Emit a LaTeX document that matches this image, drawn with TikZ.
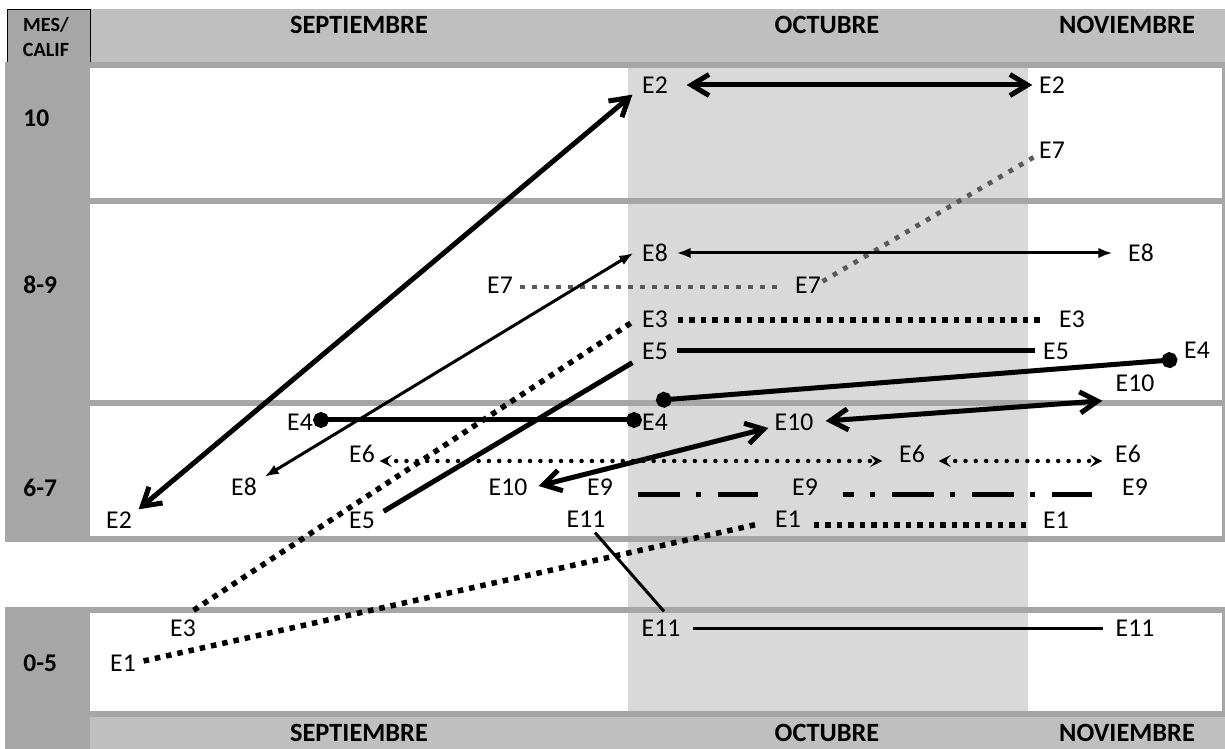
\documentclass[tikz,border=0pt]{standalone}
\usepackage{fontspec}
\setmainfont{Carlito}
\usetikzlibrary{calc}
\usetikzlibrary{arrows.meta}

\definecolor{sepgray}{HTML}{A6A6A6}
\definecolor{hdrgray}{HTML}{BFBFBF}
\definecolor{octgray}{HTML}{D9D9D9}
\definecolor{dotgray}{HTML}{595959}

\tikzset{every picture/.style={/utils/exec={\fontsize{14.4}{17}\selectfont}}}
\tikzset{
  lbl/.style={inner sep=0pt, font=\fontsize{14.6}{17}\selectfont},
  month/.style={inner sep=0pt, font=\bfseries\fontsize{15}{18}\selectfont},
  calif/.style={inner sep=0pt, anchor=west, font=\bfseries\fontsize{14.5}{17}\selectfont},
  thickline/.style={line width=0.1cm},
  thinline/.style={line width=0.06cm},
  sqdots/.style={line width=0.11cm, dash pattern=on 0.11cm off 0.12cm},
  graydots/.style={dotgray, line width=0.095cm, dash pattern=on 0.095cm off 0.145cm},
  rnddots/.style={line width=0.09cm, line cap=round, dash pattern=on 0pt off 0.206cm},
  dashdot/.style={line width=0.1cm, dash pattern=on 0.84cm off 0.32cm on 0.1cm off 0.34cm},
  bigarr/.style={thickline, {Straight Barb[length=10pt,width=12pt]}-{Straight Barb[length=10pt,width=12pt]}},
  thinarr/.style={thinline, {Latex[length=8pt,width=6pt]}-{Latex[length=8pt,width=6pt]}},
  smallarr/.style={rnddots, {Stealth[length=7pt,width=7pt,inset=3pt]}-{Stealth[length=7pt,width=7pt,inset=3pt]}},
  dotline/.style={line width=0.1cm, {Circle[length=9pt]}-{Circle[length=9pt]}}
}

\begin{document}
\begin{tikzpicture}[x=0.02cm, y=-0.02cm]
  \useasboundingbox (0,0) rectangle (1225,749);

  % table background
  \fill[hdrgray] (90,9) rectangle (1225,62);
  \fill[sepgray] (7,9) rectangle (90,62);
  \draw[line width=0.5pt] (7,62) |- (90,9) -- (90,62);
  \fill[sepgray] (5,62) rectangle (1225,542);
  \fill[sepgray] (5,607) rectangle (1225,749);
  \foreach \ya/\yb in {68/198,204/400,406/536,613/711}
    \fill[white] (90,\ya) rectangle (1222,\yb);
  \fill[hdrgray] (90,717) rectangle (1225,749);
  \foreach \ya/\yb in {68/198,204/400,406/536,542/607,613/711}
    \fill[octgray] (628,\ya) rectangle (1028,\yb);

  % headers
  \node[inner sep=0pt, align=center, font=\bfseries\fontsize{11.5}{14.2}\selectfont] (mescalif) at (46,37) {MES/\\CALIF};
  \node[month] (septtop) at (359,25) {SEPTIEMBRE};
  \node[month] (octtop) at (827,25) {OCTUBRE};
  \node[month] (novtop) at (1127,25) {NOVIEMBRE};
  \node[month] (septbot) at (359,733) {SEPTIEMBRE};
  \node[month] (octbot) at (827,733) {OCTUBRE};
  \node[month] (novbot) at (1127,733) {NOVIEMBRE};
  \node[calif] (c10) at (23,118) {10};
  \node[calif] (c89) at (23,285) {8-9};
  \node[calif] (c67) at (23,488) {6-7};
  \node[calif] (c05) at (23,663) {0-5};

  % student labels
  \begin{scope}[every node/.style={lbl}]
    \node (e2t) at (655,85) {E2};
    \node (e2r) at (1052,85) {E2};
    \node (e7r) at (1052,150) {E7};
    \node (e8t) at (655,253) {E8};
    \node (e8r) at (1141,253) {E8};
    \node (e7l) at (500,285) {E7};
    \node (e7m) at (808,285) {E7};
    \node (e3t) at (655,319) {E3};
    \node (e3r) at (1072,319) {E3};
    \node (e5t) at (655,351) {E5};
    \node (e5r) at (1056,351) {E5};
    \node (e4r) at (1197,350) {E4};
    \node (e10r) at (1135,383) {E10};
    \node (e4l) at (300,422) {E4};
    \node (e4m) at (655,422) {E4};
    \node (e10m) at (794,422) {E10};
    \node (e6l) at (362,454) {E6};
    \node (e6m) at (912,454) {E6};
    \node (e6r) at (1128,454) {E6};
    \node (e8l) at (244,487) {E8};
    \node (e10l) at (508,487) {E10};
    \node (e9l) at (600,487) {E9};
    \node (e9m) at (805,487) {E9};
    \node (e9r) at (1135,487) {E9};
    \node (e2l) at (119,520) {E2};
    \node (e5l) at (362,520) {E5};
    \node (e11l) at (586,519) {E11};
    \node (e1m) at (788,519) {E1};
    \node (e1r) at (1056,520) {E1};
    \node (e3l) at (183,628) {E3};
    \node (e11m) at (661,628) {E11};
    \node (e11r) at (1135,628) {E11};
    \node (e1l) at (123,663) {E1};
  \end{scope}

  % E2
  \draw[bigarr] ($(e2t.east)+(18.5,0)$) -- ($(e2r.west)+(-6.5,0)$);
  \draw[bigarr] ($(e2l.north east)+(6.5,-2)$) -- ($(e2t.south west)+(-9.5,1)$);
  % E7
  \draw[graydots] ($(e7l.east)+(7,2)$) -- ($(e7m.west)+(-13.5,2)$);
  \draw[graydots] ($(e7m.north east)+(1.5,5)$) -- ($(e7r.south west)+(-2.5,-3)$);
  % E8
  \draw[thinarr] ($(e8t.east)+(8.5,0)$) -- ($(e8r.west)+(-15.5,0)$);
  \draw[thinarr] ($(e8l.north east)+(7.5,-1)$) -- ($(e8t.west)+(-8.5,0)$);
  % E3
  \draw[sqdots] ($(e3t.east)+(9.5,1)$) -- ($(e3r.west)+(-16.5,1)$);
  \draw[sqdots] ($(e3l.north east)+(-2.5,-9)$) -- ($(e3t.west)+(-9.5,3)$);
  % E5
  \draw[thickline] ($(e5t.east)+(8.5,0)$) -- ($(e5r.west)+(-7.5,0)$);
  \draw[thickline] ($(e5l.north east)+(8.5,0)$) -- ($(e5t.south west)+(-9.5,3)$);
  % E4
  \draw[dotline] ($(e4l.east)+(0,-2)$) -- ($(e4m.west)+(0,-2)$);
  \draw[dotline] ($(e4r.west)+(-6.5,9.5)$) -- ($(e4m.north)+(1,-13)$);
  % E10
  \draw[bigarr] ($(e10l.east)+(11,-1)$) -- ($(e10m.west)+(-6,6)$);
  \draw[bigarr] ($(e10m.east)+(12,-1)$) -- ($(e10r.south west)+(-13,9)$);
  % E6
  \draw[smallarr] ($(e6l.east)+(4.5,7)$) -- ($(e6m.west)+(-16.5,7)$);
  \draw[smallarr] ($(e6m.east)+(13.5,7)$) -- ($(e6r.west)+(-12.5,7)$);
  % E9
  \draw[dashdot] ($(e9l.east)+(24.5,8)$) -- ($(e9m.west)+(-33.5,8)$);
  \draw[dashdot, dash phase=0.62cm] ($(e9m.east)+(24.5,8)$) -- ($(e9r.west)+(-29.5,8)$);
  % E1
  \draw[sqdots] ($(e1l.east)+(7.5,-2)$) -- ($(e1m.west)+(-16.5,5)$);
  \draw[sqdots] ($(e1m.east)+(12.5,6)$) -- ($(e1r.west)+(-11.5,5)$);
  % E11
  \draw[thinline] ($(e11l.south)+(9,5)$) -- ($(e11m.north)+(3,-8)$);
  \draw[thinline] ($(e11m.east)+(12,1)$) -- ($(e11r.west)+(-12,1)$);
\end{tikzpicture}
\end{document}
